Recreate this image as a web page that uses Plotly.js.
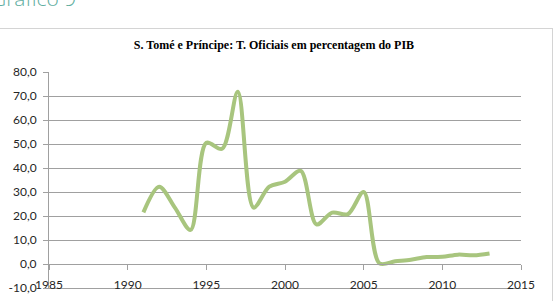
<!DOCTYPE html>
<html>
<head>
<meta charset="utf-8">
<script src="https://cdn.plot.ly/plotly-3.0.1.min.js"></script>
<style>
  html, body { margin: 0; padding: 0; background: #ffffff; }
  body { width: 558px; height: 301px; position: relative; overflow: hidden; }
  #heading {
    position: absolute; left: -9px; top: -16px;
    font-family: "Open Sans", sans-serif; font-size: 21px; font-weight: 300;
    color: #5fae9f; white-space: nowrap;
  }
  #frame {
    position: absolute; left: -2px; top: 28px; width: 555px; height: 290px;
    border: 1px solid #d4d4d4; box-sizing: border-box;
  }
  #chart { position: absolute; left: 0; top: 0; width: 558px; height: 301px; }
</style>
</head>
<body>
<div id="heading">Gráfico 9</div>
<div id="frame"></div>
<div id="chart"></div>
<script>
// Official transfers as a percentage of GDP, São Tomé e Príncipe
const years = [1991, 1992, 1993, 1994, 1995, 1996, 1997, 1998, 1999, 2000, 2001, 2002,
               2003, 2004, 2005, 2006, 2007, 2008, 2009, 2010, 2011, 2012, 2013];
const transfers = [21.5, 32.2, 23.5, 14.2, 50.5, 48.0, 71.8, 23.5, 32.2, 34.3, 38.8, 16.5,
                   21.4, 20.8, 30.0, 0.3, 1.1, 1.8, 2.9, 3.0, 3.9, 3.6, 4.4];

const yTickVals = [-10, 0, 10, 20, 30, 40, 50, 60, 70, 80];
const yTickText = ['-10,0', '0,0', '10,0', '20,0', '30,0', '40,0', '50,0', '60,0', '70,0', '80,0'];
const xTickVals = [1985, 1990, 1995, 2000, 2005, 2010, 2015];
const xTickText = ['1985', '1990', '1995', '2000', '2005', '2010', '2015'];

const chartTitle = 'S. Tomé e Príncipe: T. Oficiais em percentagem do PIB';

const axisGray = '#a0a0a0';
const tickFont = { family: 'Lato, "Open Sans", sans-serif', size: 12, color: '#262626' };

const trace = {
  x: years,
  y: transfers,
  type: 'scatter',
  mode: 'lines',
  line: { color: '#a8c57e', width: 4, shape: 'spline', smoothing: 0.9 },
  hoverinfo: 'skip',
  showlegend: false
};

// empty traces so the helper axes get drawn
const crossAxisTrace = { x: [], y: [], xaxis: 'x2', showlegend: false, hoverinfo: 'skip' };
const floorAxisTrace = { x: [], y: [], xaxis: 'x3', showlegend: false, hoverinfo: 'skip' };

const layout = {
  width: 558,
  height: 301,
  paper_bgcolor: 'rgba(0,0,0,0)',
  plot_bgcolor: 'rgba(0,0,0,0)',
  margin: { l: 49, r: 37, t: 72, b: 13, pad: 0 },
  title: {
    text: '<b>' + chartTitle + '</b>',
    font: { family: '"Liberation Serif", "Times New Roman", serif', size: 12, color: '#000000' },
    x: 0.491, xanchor: 'center',
    y: 0.85, yanchor: 'middle', yref: 'container'
  },
  // tick labels, sitting on the bottom gridline
  xaxis: {
    range: [1985, 2015],
    tickvals: xTickVals,
    ticktext: xTickText,
    showgrid: false,
    zeroline: false,
    showline: false,
    ticks: '',
    tickfont: tickFont,
    anchor: 'free',
    position: 0.056,
    fixedrange: true
  },
  // axis line and tick marks crossing at zero
  xaxis2: {
    range: [1985, 2015],
    overlaying: 'x',
    tickvals: xTickVals,
    showticklabels: false,
    showgrid: false,
    zeroline: false,
    showline: true,
    linecolor: axisGray,
    linewidth: 1,
    ticks: 'outside',
    ticklen: 5,
    tickcolor: axisGray,
    anchor: 'free',
    position: 10 / 90,
    fixedrange: true
  },
  // bottom gridline at -10
  xaxis3: {
    range: [1985, 2015],
    overlaying: 'x',
    showticklabels: false,
    showgrid: false,
    zeroline: false,
    showline: true,
    linecolor: axisGray,
    linewidth: 1,
    ticks: '',
    anchor: 'y',
    fixedrange: true
  },
  yaxis: {
    range: [-10, 80],
    tickvals: yTickVals,
    ticktext: yTickText,
    showgrid: true,
    gridcolor: axisGray,
    gridwidth: 1,
    zeroline: false,
    showline: true,
    linecolor: axisGray,
    linewidth: 1,
    ticks: 'outside',
    ticklen: 5,
    tickcolor: axisGray,
    ticklabelstandoff: 4,
    tickfont: tickFont,
    fixedrange: true
  },
  showlegend: false
};

Plotly.newPlot('chart', [trace, crossAxisTrace, floorAxisTrace], layout, {
  staticPlot: true,
  displayModeBar: false
});
</script>
</body>
</html>
